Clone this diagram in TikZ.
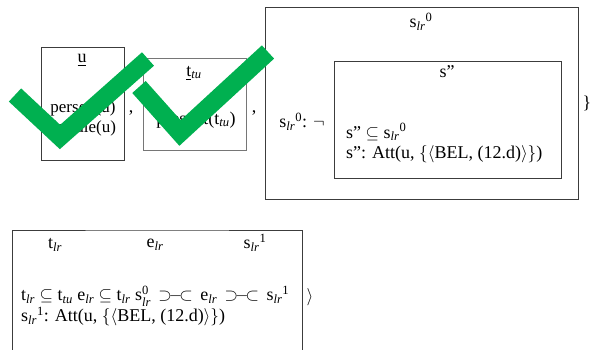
\documentclass[tikz,border=0pt]{standalone}
\usepackage{amsmath}
\usepackage{amssymb}
\usepackage{fontspec}
\setmainfont{Liberation Serif}
\usepackage{tikz}
\usetikzlibrary{positioning,calc}
\newcommand{\lr}{\textsubscript{\itshape lr}}
\newcommand{\tu}{\textsubscript{\itshape tu}}
\newcommand{\slrup}[1]{s\lr\textsuperscript{#1}}
\newcommand{\abut}{\ensuremath{\mathrel{\,\supset\mkern-3mu\relbar\mkern-3mu\subset\,}}}
\definecolor{clrChk}{RGB}{0,176,80}
\definecolor{clrBox}{RGB}{60,60,60}
\tikzset{
  drsbox/.style={rectangle,draw=clrBox,line width=0.8pt,inner sep=0pt},
  txt/.style={font=\fontsize{18}{20}\selectfont,inner sep=0pt},
  conds/.style={txt,align=left},
  tick/.style={draw=clrChk,line width=18pt,line join=miter,line cap=butt}
}
\begin{document}
\begin{tikzpicture}[x=1pt,y=-1pt]
  \useasboundingbox (0,0) rectangle (592,350);
  % upper boxes
  \node[drsbox,minimum width=83pt,minimum height=113pt] (ubox) at (82.5,103.5) {};
  \node[drsbox,draw=clrBox!70,minimum width=103pt,minimum height=92pt] (tbox) at (194.5,104) {};
  \node[drsbox,minimum width=313pt,minimum height=192pt] (sbox) at (421.5,103) {};
  \node[drsbox,minimum width=227pt,minimum height=117pt] (inbox) at (447.5,119.5) {};
  \node[txt] (utitle) at (82,60) {\underline{u}};
  \node[txt,align=center,font=\fontsize{17}{20}\selectfont] (ucond) at (83,118) {person(u)\\female(u)};
  \node[txt] (comma1) at (131,113) {,};
  \node[txt] (ttitle) at (194,73) {\underline{t}\tu};
  \node[txt] (tcond) at (196,120) {present(t\tu)};
  \node[txt] (comma2) at (254,113) {,};
  \node[txt] (stitle) at (421,22) {\slrup{0}};
  \node[txt] (sneg) at (302,122) {\slrup{0}: $\neg$};
  \node[txt] (intitle) at (447,72) {s”};
  \node[conds,anchor=west] (incond) at (346,143)
    {s” $\subseteq$ \slrup{0}\\s”: Att(u, $\{\langle$BEL, (12.d)$\rangle\}$)};
  \node[txt] (brace) at (587,103) {\}};
  % lower box, cut by the page
  \coordinate (bl) at (12,352);
  \coordinate (br) at (302,352);
  \draw[clrBox,line width=0.8pt] (bl) |- (157,230) -| (br);
  \node[txt] (tlr) at (55,245) {t\lr};
  \node[txt] (elr) at (155,245) {e\lr};
  \node[txt] (slr) at (255,243) {\slrup{1}};
  \node[conds,anchor=west] (bcond) at (21,306)
    {t\lr{} $\subseteq$ t\tu{} e\lr{} $\subseteq$ t\lr{} s$^{\text{0}}_{\textit{lr}}$ \abut{} e\lr{} \abut{} \slrup{1}\\
     \slrup{1}: Att(u, $\{\langle$BEL, (12.d)$\rangle\}$)};
  \node[txt] (angle) at (310,297) {$\rangle$};
  % check marks on top
  \coordinate (c1a) at (15,95);
  \coordinate (c1b) at (60,137);
  \coordinate (c1c) at (148,59);
  \coordinate (c2a) at (139,87);
  \coordinate (c2b) at (180,133);
  \coordinate (c2c) at (268,52);
  \draw[tick] (c1a) -- (c1b) -- (c1c);
  \draw[tick] (c2a) -- (c2b) -- (c2c);
\end{tikzpicture}
\end{document}
